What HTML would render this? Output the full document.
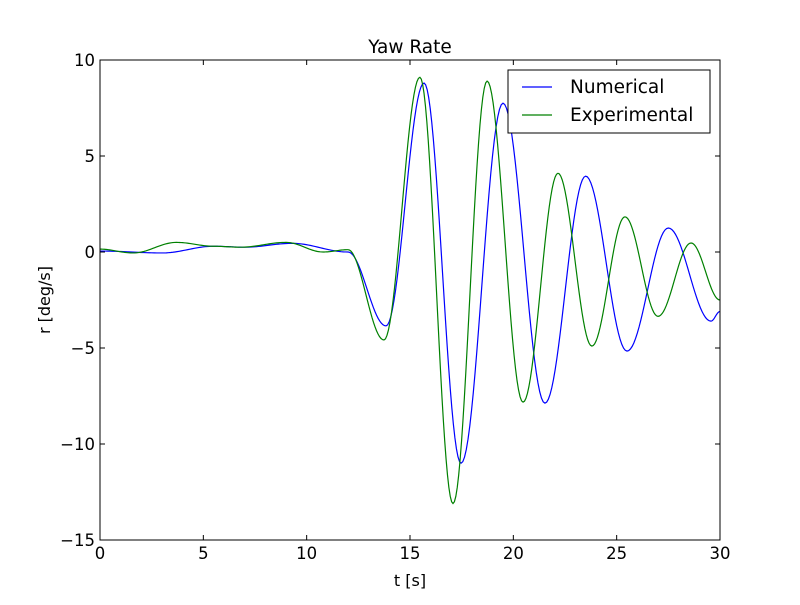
<!DOCTYPE html>
<html><head><meta charset="utf-8"><style>
body{margin:0;background:#fff}
svg text{font-family:"DejaVu Sans","Liberation Sans",sans-serif;fill:#000}
</style></head><body>
<svg id="c" width="800" height="600" xmlns="http://www.w3.org/2000/svg">
<rect width="800" height="600" fill="#fff"/>
<g id="plot"></g>
<rect x="100" y="60" width="620" height="480" fill="none" stroke="#000" stroke-width="1"/>
<g id="ticks"></g>
<text x="410" y="53" font-size="18.5" text-anchor="middle">Yaw Rate</text>
<text x="410" y="586" font-size="16" text-anchor="middle">t [s]</text>
<text transform="translate(50,300) rotate(-90)" font-size="16" text-anchor="middle">r [deg/s]</text>
<g>
<rect x="508" y="70" width="202" height="63" fill="#fff" stroke="#000" stroke-width="1"/>
<line x1="522" y1="87" x2="552" y2="87" stroke="#0000ff" stroke-width="1.2"/>
<text x="570" y="93" font-size="18.5">Numerical</text>
<line x1="522" y1="115" x2="552" y2="115" stroke="#008000" stroke-width="1.2"/>
<text x="570" y="121" font-size="18.5">Experimental</text>
</g>
</svg>
<script>
const xTicks=[0,5,10,15,20,25,30];
const yTicks=[10,5,0,-5,-10,-15];
const yTickLabels=["10","5","0","\u22125","\u221210","\u221215"];
const numT=[0,3,5.5,7,9.3,12,13.84,15.68,17.47,19.5,21.53,23.5,25.5,27.5,29.56,30];
const numR=[0.05,-0.05,0.3,0.25,0.45,0,-3.85,8.8,-11.0,7.75,-7.87,3.95,-5.16,1.25,-3.6,-3.1];
const expT=[0,1.6,3.7,5.5,6.8,9.0,10.8,12.0,13.74,15.48,17.08,18.73,20.47,22.16,23.8,25.4,27.0,28.6,30];
const expR=[0.15,-0.05,0.5,0.3,0.25,0.5,0,0.12,-4.58,9.1,-13.1,8.9,-7.82,4.1,-4.9,1.83,-3.35,0.47,-2.5];
const X=t=>100+(t-0)/30*620;
const Y=r=>60+(10-r)/25*480;
const NS='http://www.w3.org/2000/svg';
function mk(tag,attrs,parent){const e=document.createElementNS(NS,tag);for(const k in attrs)e.setAttribute(k,attrs[k]);parent.appendChild(e);return e;}
const tk=document.getElementById('ticks');
xTicks.forEach(t=>{
  const a=mk('line',{x1:X(t),x2:X(t),y1:540,y2:535,stroke:'#000'},tk);
  
  
  mk('line',{x1:X(t),x2:X(t),y1:60,y2:65,stroke:'#000'},tk);
  const l=mk('text',{x:X(t),y:559,'font-size':16.5,'text-anchor':'middle'},tk);
  l.textContent=String(t);
  
  
});
yTicks.forEach((r,i)=>{
  const a=mk('line',{x1:100,x2:105,y1:Y(r),y2:Y(r),stroke:'#000'},tk);
  
  
  mk('line',{x1:715,x2:720,y1:Y(r),y2:Y(r),stroke:'#000'},tk);
  const l=mk('text',{x:95,y:Y(r)+6,'font-size':16.5,'text-anchor':'end'},tk);
  l.textContent=yTickLabels[i];
  
  
});
function pathFor(T,R){
  let d='M'+X(T[0]).toFixed(2)+','+Y(R[0]).toFixed(2);
  for(let i=0;i<T.length-1;i++){
    const n=24;
    for(let j=1;j<=n;j++){
      const s=j/n,t=T[i]+(T[i+1]-T[i])*s;
      const r=R[i]+(R[i+1]-R[i])*(1-Math.cos(Math.PI*s))/2;
      d+=' L'+X(t).toFixed(2)+','+Y(r).toFixed(2);
    }
  }
  return d;
}
const pg=document.getElementById('plot');
const p1=mk('path',{d:pathFor(numT,numR),fill:'none',stroke:'#0000ff','stroke-width':1.2},pg);


const p2=mk('path',{d:pathFor(expT,expR),fill:'none',stroke:'#008000','stroke-width':1.2},pg);


</script>
</body></html>
